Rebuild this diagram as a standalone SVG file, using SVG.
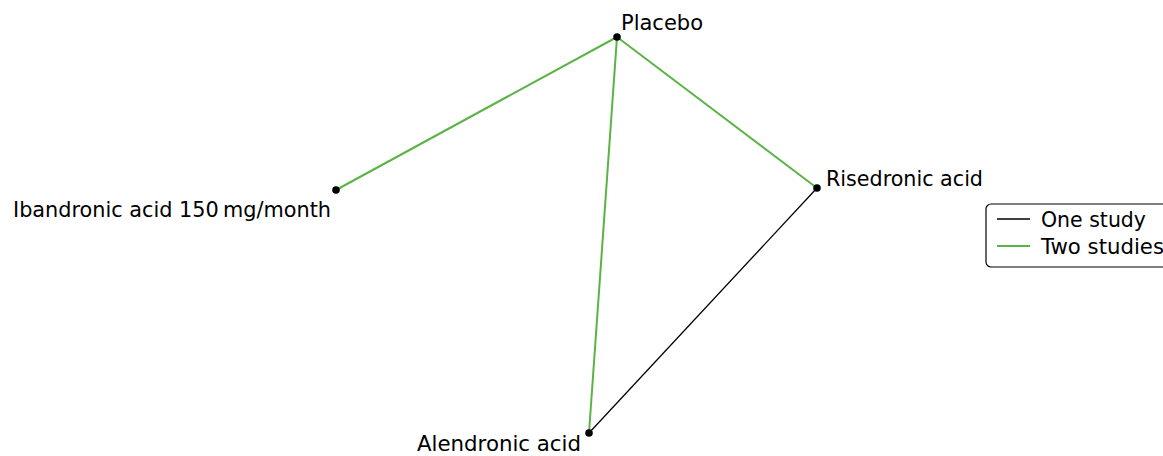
<svg xmlns="http://www.w3.org/2000/svg" width="1163" height="456" viewBox="0 0 1163 456">
<style>
text{font-family:"DejaVu Sans","Noto Sans","Liberation Sans",sans-serif;font-size:20.5px;fill:#000}
.g{stroke:#5cb345;stroke-width:2;fill:none}
.k{stroke:#000;stroke-width:1.3;fill:none}
.dot{fill:#000}
</style>
<rect width="1163" height="456" fill="#fff"/>
<g id="connectors">
<line class="g" x1="617" y1="37" x2="336" y2="190"/>
<line class="g" x1="617" y1="37" x2="817" y2="188"/>
<line class="g" x1="617" y1="37" x2="589" y2="433"/>
<line class="k" x1="817" y1="188" x2="589" y2="433"/>
</g>
<g id="placebo"><circle class="dot" cx="617" cy="37" r="3.8"/><text x="621" y="30" textLength="82" lengthAdjust="spacingAndGlyphs">Placebo</text></g>
<g id="ibandronic"><circle class="dot" cx="336" cy="190" r="3.8"/><text x="13" y="217" textLength="318" lengthAdjust="spacingAndGlyphs">Ibandronic acid 150&#8201;mg/month</text></g>
<g id="risedronic"><circle class="dot" cx="817" cy="188" r="3.8"/><text x="826" y="186" textLength="157" lengthAdjust="spacingAndGlyphs">Risedronic acid</text></g>
<g id="alendronic"><circle class="dot" cx="589" cy="433" r="3.8"/><text x="417" y="451" textLength="164" lengthAdjust="spacingAndGlyphs">Alendronic acid</text></g>
<g id="legend">
<rect x="986" y="204" width="190" height="63" rx="5" fill="#fff" stroke="#000" stroke-width="1.2"/>
<line class="k" x1="997" y1="219" x2="1030" y2="219"/>
<line class="g" x1="997" y1="246" x2="1030" y2="246" stroke-width="1.6"/>
<text x="1041" y="227" textLength="105" lengthAdjust="spacingAndGlyphs">One study</text>
<text x="1041" y="254" textLength="123" lengthAdjust="spacingAndGlyphs">Two studies</text>
</g>
</svg>
